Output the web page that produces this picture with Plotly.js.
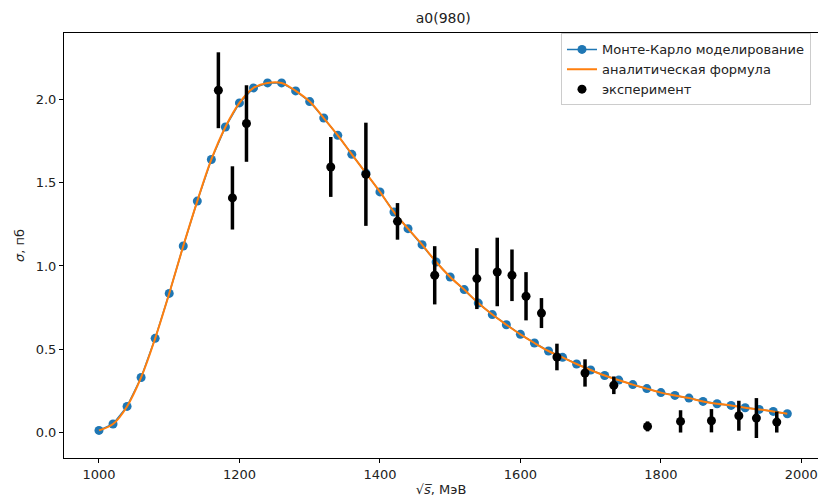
<!DOCTYPE html>
<html>
<head>
<meta charset="utf-8">
<script src="https://cdn.plot.ly/plotly-3.0.1.min.js"></script>
<style>html,body{margin:0;padding:0;background:#fff}#chart{width:818px;height:499px}</style>
</head>
<body>
<div id="chart"></div>
<script>
// Monte-Carlo simulation points
const mcX = [1000,1020,1040,1060,1080,1100,1120,1140,1160,1180,1200,1220,1240,1260,1280,1300,1320,1340,1360,1380,1400,1420,1440,1460,1480,1500,1520,1540,1560,1580,1600,1620,1640,1660,1680,1700,1720,1740,1760,1780,1800,1820,1840,1860,1880,1900,1920,1940,1960,1980];
const mcY = [0.012,0.05,0.156,0.33,0.565,0.835,1.12,1.39,1.64,1.835,1.98,2.07,2.10,2.10,2.052,1.988,1.889,1.785,1.671,1.558,1.445,1.324,1.224,1.128,1.024,0.934,0.858,0.777,0.708,0.647,0.589,0.537,0.489,0.451,0.411,0.375,0.342,0.314,0.287,0.263,0.239,0.222,0.206,0.186,0.172,0.162,0.148,0.138,0.126,0.112];
// analytic formula curve
const anX = mcX.slice();
const anY = mcY.slice();
// experiment
const expX = [1170,1190,1210,1330,1380,1425,1478,1538,1567,1588,1608,1630,1652,1692,1733,1781,1828,1872,1911,1936,1965];
const expY = [2.056,1.409,1.856,1.595,1.551,1.268,0.944,0.924,0.964,0.944,0.818,0.717,0.453,0.357,0.283,0.036,0.066,0.07,0.10,0.086,0.062];
const expErr = [0.228,0.19,0.23,0.18,0.31,0.11,0.175,0.183,0.206,0.155,0.145,0.09,0.08,0.082,0.053,0.03,0.067,0.07,0.09,0.12,0.063];
const names = ['Монте-Карло моделирование','аналитическая формула','эксперимент'];
const xTicks = [1000,1200,1400,1600,1800,2000];
const yTicks = [0.0,0.5,1.0,1.5,2.0];

const font = {family: 'DejaVu Sans, sans-serif', size: 13, color: '#222'};

const traces = [
  {x: mcX, y: mcY, name: names[0], type: 'scatter', mode: 'lines+markers',
   line: {color: '#1f77b4', width: 1.5}, marker: {color: '#1f77b4', size: 9}},
  {x: anX, y: anY, name: names[1], type: 'scatter', mode: 'lines',
   line: {color: '#ff7f0e', width: 2, shape: 'spline'}},
  {x: expX, y: expY, name: names[2], type: 'scatter', mode: 'markers',
   marker: {color: '#000', size: 9},
   error_y: {type: 'data', array: expErr, visible: true, color: '#000', thickness: 3.5, width: 0}}
];

const layout = {
  width: 818, height: 499,
  paper_bgcolor: '#fff', plot_bgcolor: '#fff',
  font: font,
  margin: {l: 64, r: 0, t: 33, b: 41},
  showlegend: true,
  title: {text: 'a0(980)', font: {family: font.family, size: 14, color: '#222'},
          xref: 'paper', x: 0.503, xanchor: 'center', yref: 'container', y: 0.964, yanchor: 'middle'},
  xaxis: {range: [950.2, 2023.7], tickvals: xTicks, ticktext: xTicks.map(String),
          showgrid: false, zeroline: false, showline: true, linecolor: '#000', linewidth: 1,
          mirror: true, ticks: 'outside', ticklen: 4, tickcolor: '#000',
          title: {text: '√<i>s̅</i>, МэВ', font: font, standoff: 4}, automargin: false},
  yaxis: {range: [-0.154, 2.40], tickvals: yTicks, ticktext: yTicks.map(v => v.toFixed(1)),
          showgrid: false, zeroline: false, showline: true, linecolor: '#000', linewidth: 1,
          mirror: false, ticks: 'outside', ticklen: 4, tickcolor: '#000',
          title: {text: '<i>σ</i>, пб', font: font, standoff: 8}, automargin: false},
  legend: {x: 0.9907, xanchor: 'right', y: 0.999, yanchor: 'top',
           bgcolor: 'rgba(255,255,255,0.85)', bordercolor: '#ccc', borderwidth: 1,
           font: font, tracegroupgap: 0}
};

Plotly.newPlot('chart', traces, layout, {displayModeBar: false, staticPlot: true});
</script>
</body>
</html>
